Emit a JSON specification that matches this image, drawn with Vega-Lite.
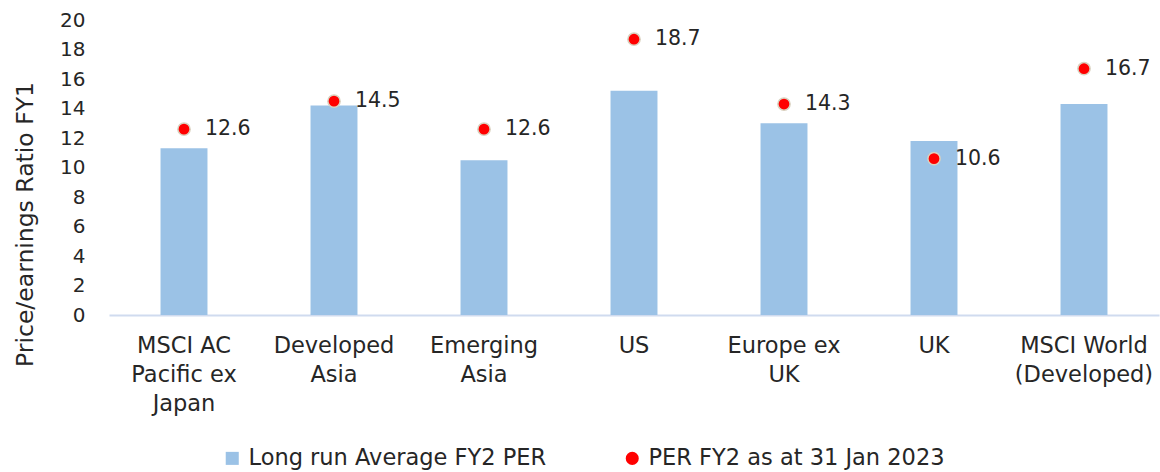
{
  "$schema": "https://vega.github.io/schema/vega-lite/v6.json",
  "width": 1050,
  "height": 295,
  "autosize": "none",
  "padding": {"left": 109, "top": 20, "right": 1, "bottom": 157},
  "background": "white",
  "config": {
    "view": {"stroke": null},
    "font": "DejaVu Sans",
    "axis": {"labelFont": "DejaVu Sans", "titleFont": "DejaVu Sans", "labelColor": "#262626", "titleColor": "#262626", "grid": false}
  },
  "data": {
    "values": [
      {"region": "MSCI AC Pacific ex Japan", "series": "Long run Average FY2 PER", "value": 11.3},
      {"region": "Developed Asia", "series": "Long run Average FY2 PER", "value": 14.2},
      {"region": "Emerging Asia", "series": "Long run Average FY2 PER", "value": 10.5},
      {"region": "US", "series": "Long run Average FY2 PER", "value": 15.2},
      {"region": "Europe ex UK", "series": "Long run Average FY2 PER", "value": 13.0},
      {"region": "UK", "series": "Long run Average FY2 PER", "value": 11.8},
      {"region": "MSCI World (Developed)", "series": "Long run Average FY2 PER", "value": 14.3},
      {"region": "MSCI AC Pacific ex Japan", "series": "PER FY2 as at 31 Jan 2023", "value": 12.6},
      {"region": "Developed Asia", "series": "PER FY2 as at 31 Jan 2023", "value": 14.5},
      {"region": "Emerging Asia", "series": "PER FY2 as at 31 Jan 2023", "value": 12.6},
      {"region": "US", "series": "PER FY2 as at 31 Jan 2023", "value": 18.7},
      {"region": "Europe ex UK", "series": "PER FY2 as at 31 Jan 2023", "value": 14.3},
      {"region": "UK", "series": "PER FY2 as at 31 Jan 2023", "value": 10.6},
      {"region": "MSCI World (Developed)", "series": "PER FY2 as at 31 Jan 2023", "value": 16.7}
    ]
  },
  "encoding": {
    "x": {
      "field": "region",
      "type": "nominal",
      "sort": null,
      "scale": {"paddingInner": 0.687, "paddingOuter": 0.3435},
      "axis": {
        "title": null,
        "labelAngle": 0,
        "labelFontSize": 22.5,
        "labelPadding": 19,
        "labelLineHeight": 29,
        "labelBaseline": "top",
        "labelLimit": 300,
        "ticks": false,
        "domainColor": "#D0DBEF",
        "domainWidth": 2,
        "labelExpr": "datum.value == 'MSCI AC Pacific ex Japan' ? ['MSCI AC', 'Pacific ex', 'Japan'] : datum.value == 'Developed Asia' ? ['Developed', 'Asia'] : datum.value == 'Emerging Asia' ? ['Emerging', 'Asia'] : datum.value == 'Europe ex UK' ? ['Europe ex', 'UK'] : datum.value == 'MSCI World (Developed)' ? ['MSCI World', '(Developed)'] : datum.value"
      }
    },
    "y": {
      "field": "value",
      "type": "quantitative",
      "scale": {"domain": [0, 20], "nice": false},
      "axis": {
        "title": "Price/earnings Ratio FY1",
        "titleFontSize": 23.5,
        "titleFontWeight": "normal",
        "titleX": -84,
        "titleY": 204,
        "titleAlign": "center",
        "titleBaseline": "middle",
        "titleAngle": -90,
        "titleLimit": 500,
        "values": [0, 2, 4, 6, 8, 10, 12, 14, 16, 18, 20],
        "labelFontSize": 20,
        "labelPadding": 24,
        "ticks": false,
        "domain": false
      }
    },
    "color": {
      "field": "series",
      "type": "nominal",
      "scale": {"domain": ["Long run Average FY2 PER", "PER FY2 as at 31 Jan 2023"], "range": ["#9BC2E6", "#FF0000"]},
      "legend": {
        "title": null,
        "orient": "none",
        "legendX": 112,
        "legendY": 427,
        "direction": "horizontal",
        "labelFontSize": 22.5,
        "labelColor": "#262626",
        "labelFont": "DejaVu Sans",
        "labelLimit": 500,
        "symbolSize": 170,
        "symbolStrokeWidth": 0,
        "columnPadding": 74,
        "labelOffset": 5
      }
    }
  },
  "layer": [
    {
      "transform": [{"filter": "datum.series == 'Long run Average FY2 PER'"}],
      "mark": {"type": "bar"}
    },
    {
      "transform": [{"filter": "datum.series == 'PER FY2 as at 31 Jan 2023'"}],
      "mark": {"type": "point", "filled": true, "size": 150, "stroke": "#D9D2C0", "strokeWidth": 1.5, "opacity": 1},
      "encoding": {
        "shape": {"field": "series", "type": "nominal", "scale": {"domain": ["Long run Average FY2 PER", "PER FY2 as at 31 Jan 2023"], "range": ["square", "circle"]}}
      }
    },
    {
      "transform": [{"filter": "datum.series == 'PER FY2 as at 31 Jan 2023'"}],
      "mark": {"type": "text", "align": "left", "baseline": "middle", "dx": 21, "fontSize": 20.5, "color": "#262626"},
      "encoding": {
        "text": {"field": "value", "type": "quantitative", "format": ".1f"},
        "color": {"value": "#262626"}
      }
    }
  ]
}
